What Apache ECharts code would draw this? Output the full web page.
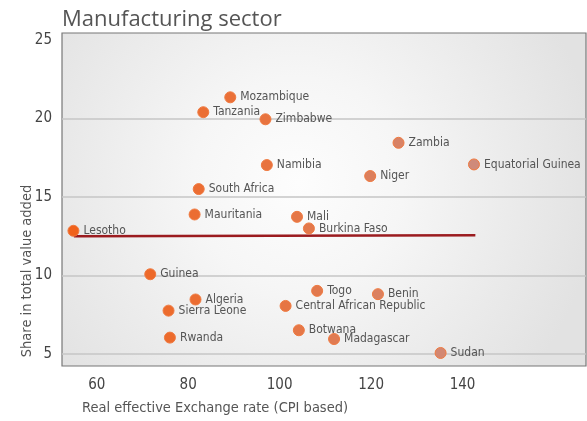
<!DOCTYPE html>
<html>
<head>
<meta charset="utf-8">
<script src="https://cdn.jsdelivr.net/npm/echarts@6/dist/echarts.min.js"></script>
<style>
  html, body { margin: 0; padding: 0; background: #fff; }
  #chart { width: 587px; height: 421px; }
</style>
</head>
<body>
<div id="chart"></div>
<script>
var countries = ['Mozambique', 'Tanzania', 'Zimbabwe', 'Namibia', 'South Africa', 'Mauritania',
  'Mali', 'Burkina Faso', 'Zambia', 'Niger', 'Equatorial Guinea', 'Lesotho', 'Guinea',
  'Algeria', 'Sierra Leone', 'Rwanda', 'Central African Republic', 'Botwana', 'Togo',
  'Benin', 'Madagascar', 'Sudan'];
var exchangeRate = [89.2, 83.3, 96.9, 97.2, 82.3, 81.4,
  103.8, 106.4, 126.0, 119.8, 142.5, 54.9, 71.7,
  81.6, 75.7, 76.0, 101.3, 104.2, 108.2,
  121.5, 111.9, 135.2];
var valueShare = [21.35, 20.4, 19.95, 17.03, 15.5, 13.88,
  13.73, 12.99, 18.45, 16.33, 17.07, 12.84, 10.07,
  8.46, 7.75, 6.03, 8.05, 6.5, 9.01,
  8.8, 5.94, 5.05];
var trendX = [55, 142.8];
var trendY = [12.5, 12.56];
var xTicks = [60, 80, 100, 120, 140];
var yTicks = [5, 10, 15, 20, 25];
var yGridLines = [5, 10, 15, 20];

var narrow = '"Liberation Sans Narrow", "DejaVu Sans Condensed", sans-serif';

var points = countries.map(function (name, i) {
  return { name: name, value: [exchangeRate[i], valueShare[i]] };
});
var trend = trendX.map(function (x, i) { return [x, trendY[i]]; });

var chart = echarts.init(document.getElementById('chart'));
chart.setOption({
  animation: false,
  title: {
    text: 'Manufacturing sector',
    left: 57,
    top: 4,
    textStyle: { fontFamily: '"Open Sans", sans-serif', fontSize: 22, fontWeight: 'normal', color: '#555' }
  },
  grid: {
    left: 62, right: 1, top: 33, bottom: 55,
    show: true,
    borderColor: '#777',
    borderWidth: 1.2,
    backgroundColor: {
      type: 'radial', x: 0.45, y: 0.45, r: 0.9,
      colorStops: [{ offset: 0, color: '#fdfdfd' }, { offset: 0.35, color: '#f6f6f6' }, { offset: 1, color: '#e2e2e2' }]
    }
  },
  xAxis: {
    type: 'value',
    min: 52.4,
    max: 167,
    axisLine: { show: false },
    axisTick: { show: false },
    splitLine: { show: false },
    axisLabel: {
      customValues: xTicks,
      margin: 12,
      fontFamily: narrow,
      fontSize: 15,
      color: '#444'
    }
  },
  yAxis: {
    type: 'value',
    min: 4.22,
    max: 25.45,
    axisLine: { show: false },
    axisTick: { show: false, customValues: yGridLines },
    splitLine: { show: true, lineStyle: { color: '#c6c6c6', width: 1.5 } },
    axisLabel: {
      customValues: yTicks,
      margin: 10,
      fontFamily: narrow,
      fontSize: 15,
      color: '#444'
    }
  },
  visualMap: {
    show: false,
    type: 'continuous',
    seriesIndex: 1,
    dimension: 0,
    min: 55,
    max: 142,
    inRange: { color: ['#f0621c', '#e87440', '#cf8a7a'] }
  },
  graphic: [
    {
      type: 'text', x: 27, y: 271, rotation: Math.PI / 2,
      style: { text: 'Share in total value added', font: '14.5px ' + narrow, fill: '#555', align: 'center', verticalAlign: 'middle' }
    },
    {
      type: 'text', x: 82, y: 408,
      style: { text: 'Real effective Exchange rate (CPI based)', font: '14.5px ' + narrow, fill: '#555', align: 'left', verticalAlign: 'middle' }
    }
  ],
  series: [
    {
      type: 'line',
      data: trend,
      symbol: 'none',
      lineStyle: { color: '#9b1b1f', width: 2.5 },
      z: 2
    },
    {
      type: 'scatter',
      data: points,
      symbolSize: 11,
      itemStyle: { borderColor: '#f07a40', borderWidth: 1, opacity: 1 },
      label: {
        show: true,
        position: 'right',
        distance: 4,
        formatter: '{b}',
        fontFamily: narrow,
        fontSize: 12,
        color: '#555'
      },
      z: 3
    }
  ]
});
</script>
</body>
</html>
